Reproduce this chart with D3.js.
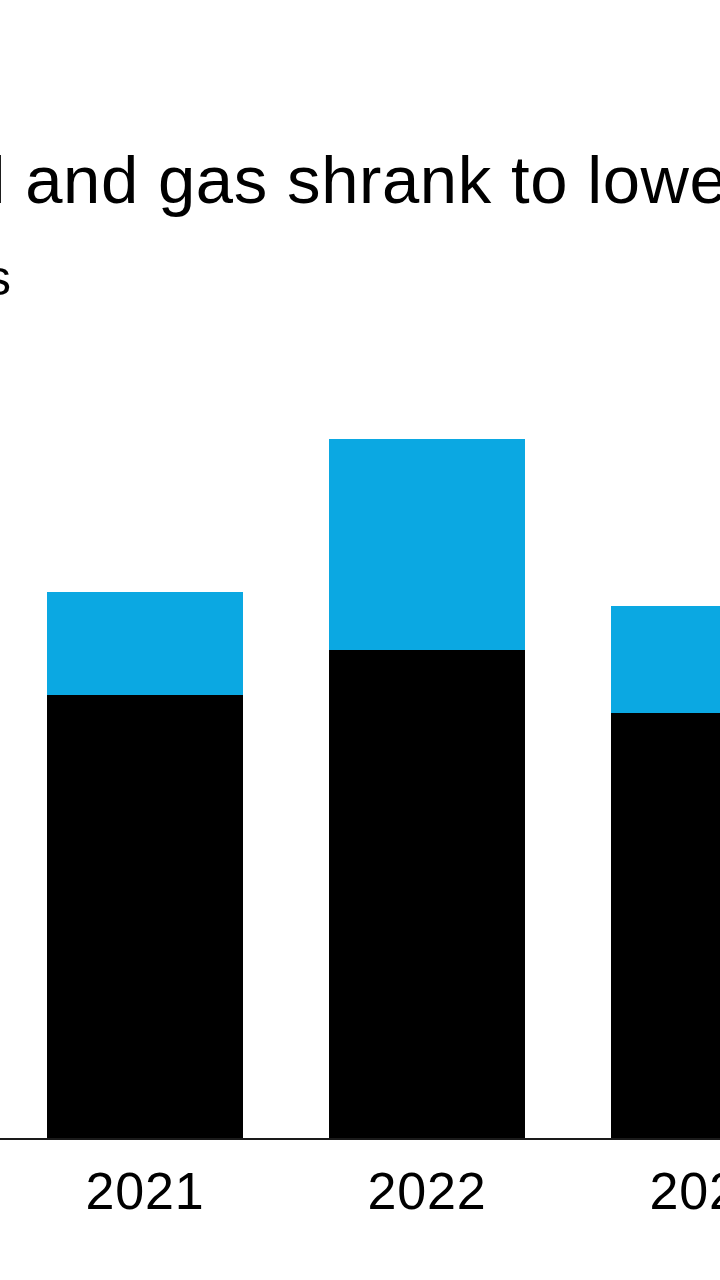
<!DOCTYPE html>
<html>
<head>
<meta charset="utf-8">
<script src="https://cdn.jsdelivr.net/npm/d3@7"></script>
<style>
  html, body { margin: 0; padding: 0; background: #fff; overflow: hidden; }
  svg { display: block; font-family: "Liberation Sans", Arial, sans-serif; }
</style>
</head>
<body>
<svg id="svg"></svg>
<script>
// values in billions of dollars
const years = ["2021", "2022", "2023"];
const oilGas = [44.4, 48.9, 42.6];
const other = [10.3, 21.1, 10.7];
const seriesKeys = ["oilGas", "other"];
const seriesColors = ["#000000", "#0ba8e2"];

const titleText = "Profits from oil and gas shrank to lowest in three years";
const subtitleText = "Billions of dollars";

const width = 720, height = 1280;
const svg = d3.select("#svg").attr("width", width).attr("height", height);

const x = d3.scaleBand()
    .domain(years)
    .range([-39, 893])
    .padding(0.305);

const y = d3.scaleLinear()
    .domain([0, 80])
    .range([1139, 339]);

const table = years.map((yr, i) => ({year: yr, oilGas: oilGas[i], other: other[i]}));
const stacked = d3.stack().keys(seriesKeys)(table);

// bars
svg.append("g")
    .selectAll("g")
    .data(stacked)
    .join("g")
    .attr("fill", (d, i) => seriesColors[i])
    .selectAll("rect")
    .data(d => d)
    .join("rect")
    .attr("x", d => x(d.data.year))
    .attr("y", d => y(d[1]))
    .attr("width", x.bandwidth())
    .attr("height", d => y(d[0]) - y(d[1]));

// baseline + year labels
const xAxis = svg.append("g")
    .attr("transform", `translate(0,${y(0)})`)
    .call(d3.axisBottom(x).tickSize(0).tickPadding(33));
xAxis.select(".domain").remove();
xAxis.selectAll("text")
    .attr("font-size", 52)
    .attr("letter-spacing", 0.8)
    .attr("font-family", "Liberation Sans, Arial, sans-serif")
    .attr("fill", "#000");

svg.append("line")
    .attr("x1", 0).attr("x2", width)
    .attr("y1", y(0)).attr("y2", y(0))
    .attr("stroke", "#1a1a1a")
    .attr("stroke-width", 1.8);

// title, cropped on the left as in the picture
const title = svg.append("text")
    .attr("y", 203)
    .attr("font-size", 67)
    .attr("letter-spacing", 0.6)
    .attr("fill", "#000")
    .text(titleText);
const cut = titleText.indexOf(" and");
title.attr("x", 6 - title.node().getSubStringLength(0, cut));

svg.append("text")
    .attr("x", 11)
    .attr("y", 295)
    .attr("text-anchor", "end")
    .attr("font-size", 50)
    .attr("fill", "#000")
    .text(subtitleText);
</script>
</body>
</html>
